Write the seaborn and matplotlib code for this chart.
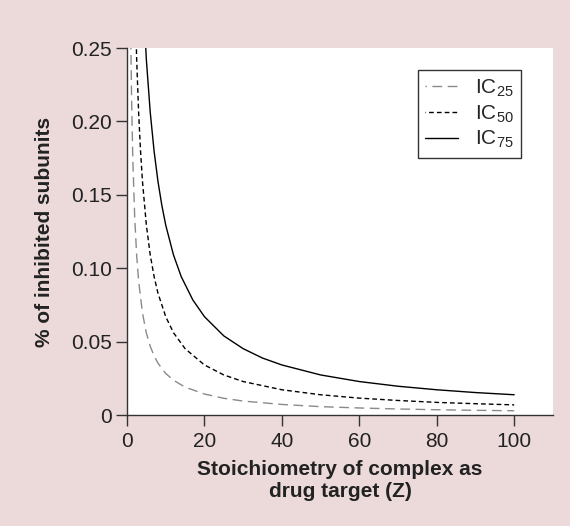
import matplotlib
matplotlib.use("Agg")
import matplotlib.pyplot as plt
import seaborn as sns
import pandas as pd

# values (fraction of subunits inhibited)
z_ic25 = [1, 1.25, 1.5, 2, 2.5, 3, 4, 5, 6, 7, 8, 10, 12, 15, 20, 25, 30, 40, 50, 60, 70, 80, 90, 100]
ic25 = [0.2500, 0.2056, 0.1745, 0.1340, 0.1087, 0.0914, 0.0694, 0.0559, 0.0468, 0.0403, 0.0353,
        0.0283, 0.0237, 0.0190, 0.0143, 0.0114, 0.0095, 0.0072, 0.0057, 0.0048, 0.0041, 0.0036,
        0.0032, 0.0029]

z_ic50 = [2, 2.5, 3, 3.5, 4, 5, 6, 7, 8, 10, 12, 15, 20, 25, 30, 40, 50, 60, 70, 80, 90, 100]
ic50 = [0.2929, 0.2421, 0.2063, 0.1797, 0.1591, 0.1294, 0.1091, 0.0943, 0.0830, 0.0670, 0.0561,
        0.0452, 0.0341, 0.0273, 0.0228, 0.0172, 0.0138, 0.0115, 0.0099, 0.0086, 0.0077, 0.0069]

z_ic75 = [4, 5, 6, 7, 8, 9, 10, 12, 14, 17, 20, 25, 30, 35, 40, 50, 60, 70, 80, 90, 100]
ic75 = [0.2929, 0.2421, 0.2063, 0.1797, 0.1591, 0.1428, 0.1294, 0.1091, 0.0943, 0.0784, 0.0670,
        0.0539, 0.0452, 0.0388, 0.0341, 0.0273, 0.0228, 0.0196, 0.0172, 0.0153, 0.0138]

x_ticks = [0, 20, 40, 60, 80, 100]
y_ticks = [0, 0.05, 0.10, 0.15, 0.20, 0.25]
y_ticklabels = ["0", "0.05", "0.10", "0.15", "0.20", "0.25"]

sns.set_style("ticks")
plt.rcParams["font.family"] = ["Liberation Sans", "DejaVu Sans"]
plt.rcParams["mathtext.fontset"] = "custom"
plt.rcParams["mathtext.rm"] = "Liberation Sans"

BG = "#ecdada"
fig = plt.figure(figsize=(5.70, 5.26), dpi=100, facecolor=BG)
ax = fig.add_axes([0.2228, 0.211, 0.7472, 0.6977])
ax.set_facecolor("white")

series = [
    ("IC$_{25}$", z_ic25, ic25, "#8a8a8a", (6.0, (7, 4))),
    ("IC$_{50}$", z_ic50, ic50, "black", (3.0, (3.4, 2.2))),
    ("IC$_{75}$", z_ic75, ic75, "black", "-"),
]
for label, z, vals, col, ls in series:
    df = pd.DataFrame({"Z": z, "val": vals})
    sns.lineplot(data=df, x="Z", y="val", ax=ax, color=col, linewidth=1.0, label=label)
    ax.lines[-1].set_linestyle(ls)

ax.set_xlim(0, 110)
ax.set_ylim(0, 0.25)
ax.set_xticks(x_ticks)
ax.set_yticks(y_ticks)
ax.set_yticklabels(y_ticklabels)
ax.tick_params(axis="both", labelsize=15, length=8, width=1, pad=3,
               color="#333333", labelcolor="#222222")
ax.tick_params(axis="x", pad=4)
for s in ["top", "right"]:
    ax.spines[s].set_visible(False)
for s in ["left", "bottom"]:
    ax.spines[s].set_color("#333333")
    ax.spines[s].set_linewidth(1)

ax.set_xlabel("Stoichiometry of complex as\ndrug target (Z)", fontsize=15, fontweight="bold",
              color="#222222", labelpad=7, linespacing=1.2)
ax.set_ylabel("% of inhibited subunits", fontsize=15, fontweight="bold", color="#222222", labelpad=12)

leg = ax.legend(loc="upper right", bbox_to_anchor=(0.925, 0.94), fontsize=15, frameon=True,
                fancybox=False, edgecolor="black", handlelength=1.6, labelspacing=0.2,
                borderpad=0.35, handletextpad=0.8, borderaxespad=0)
leg.get_frame().set_linewidth(1.0)

fig.savefig("out.png", dpi=100, facecolor=BG)
